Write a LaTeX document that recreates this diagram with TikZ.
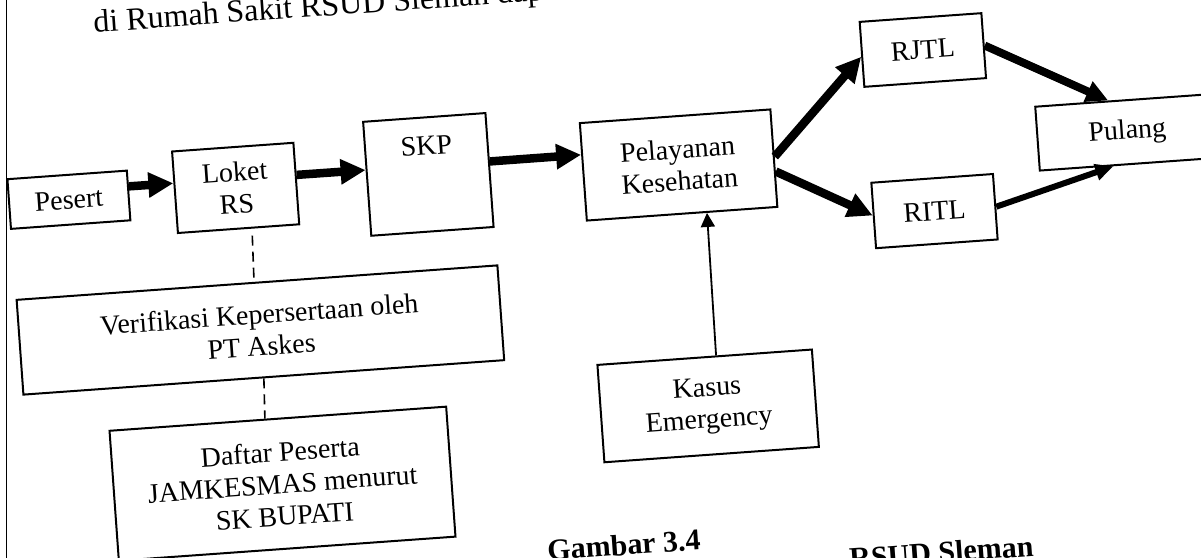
\documentclass[tikz,border=0pt]{standalone}
\usepackage{fontspec}
\setmainfont{Liberation Serif}
\usetikzlibrary{arrows.meta,calc}
\newcommand\labsize{\fontsize{28}{32}\selectfont}
\begin{document}
\begin{tikzpicture}[x=1pt,y=-1pt,
  box/.style={draw, line width=2pt, rotate=4.1, align=center, inner sep=2pt, font=\labsize},
  fatarrow/.style={line width=8.5pt, -{Triangle[length=25pt,width=24pt]}},
  medarrow/.style={line width=8pt, -{Triangle[length=22pt,width=21pt]}},
  slimarrow/.style={line width=6pt, -{Triangle[length=18pt,width=16pt]}},
  thinarrow/.style={line width=1.8pt, -{Triangle[length=14pt,width=14pt]}},
  dashln/.style={line width=1.6pt, dash pattern=on 10pt off 6pt},
  txt/.style={rotate=4.1, inner sep=0pt, anchor=base west}]
\useasboundingbox (0,0) rectangle (1201,557);
\clip (0,0) rectangle (1201,557);
\fill[white] (0,0) rectangle (1201,557);
% page border line
\draw[line width=1.6pt] (6.5,-5) -- (6.5,562);
% text
\node[txt, font=\fontsize{32}{36}\selectfont] (top) at (94,32.5) {di Rumah Sakit RSUD Sleman dapat};
\node[txt, font=\fontsize{30}{34}\selectfont\bfseries] (cap) at (548,560.6) {Gambar 3.4};
\node[txt, font=\fontsize{30}{34}\selectfont\bfseries] (cap2) at (850,569) {RSUD Sleman};
% boxes
\node[box, minimum width=119.7pt, minimum height=49.8pt] (pes) at (68.9,199.75) {Pesert};
\node[box, minimum width=121.6pt, minimum height=81.7pt] (lok) at (235.65,187.9) {Loket\\RS};
\node[box, minimum width=122.6pt, minimum height=114.2pt, text height=35.6pt, text depth=74.6pt] (skp) at (428.35,174.4) {SKP};
\node[box, minimum width=191pt, minimum height=97.7pt] (pel) at (678.6,165) {Pelayanan\\Kesehatan};
\node[box, minimum width=122pt, minimum height=65.1pt] (rjtl) at (922.85,50) {RJTL};
\node[box, minimum width=121.9pt, minimum height=65.6pt] (ritl) at (934.5,211.1) {RITL};
\node[box, minimum width=180pt, minimum height=64pt] (pul) at (1127.3,132.2) {Pulang};
\node[box, minimum width=482pt, minimum height=95pt] (ver) at (260.4,330) {Verifikasi Kepersertaan oleh\\PT Askes};
\node[box, minimum width=337.5pt, minimum height=130.3pt] (daf) at (282.5,483.7) {Daftar Peserta\\JAMKESMAS menurut\\SK BUPATI};
\node[box, minimum width=215pt, minimum height=97.6pt] (kas) at (708.15,405.9) {Kasus\\Emergency};
% connectors
\draw[fatarrow] ($(pes.east)!0.35!(pes.north east)$) -- ($(lok.west)!0.217!(lok.north west)$);
\draw[fatarrow] ($(lok.east)!0.206!(lok.north east)$) -- ($(skp.west)!0.152!(skp.north west)$);
\draw[fatarrow] ($(skp.east)!0.147!(skp.north east)$) -- ($(pel.west)!0.344!(pel.north west)$);
\draw[fatarrow] ($(pel.east)!0.03!(pel.north east)$) -- ($(rjtl.west)!0.07!(rjtl.south west)$);
\draw[fatarrow] ($(pel.east)!0.27!(pel.south east)$) -- (ritl.west);
\draw[medarrow] (rjtl.east) -- ($(pul.north)!0.185!(pul.north west)$);
\draw[slimarrow] (ritl.east) -- ($(pul.south)!0.18!(pul.south west)$);
\draw[thinarrow] ($(kas.north)!0.106!(kas.north east)$) -- ($(pel.south)!0.258!(pel.south east)$);
\draw[dashln, shorten <=7pt] ($(lok.south)!0.217!(lok.south east)$) -- ($(ver.north)!0.012!(ver.north west)$);
\draw[dashln] (ver.south) -- ($(daf.north)!0.076!(daf.north west)$);
\end{tikzpicture}
\end{document}
